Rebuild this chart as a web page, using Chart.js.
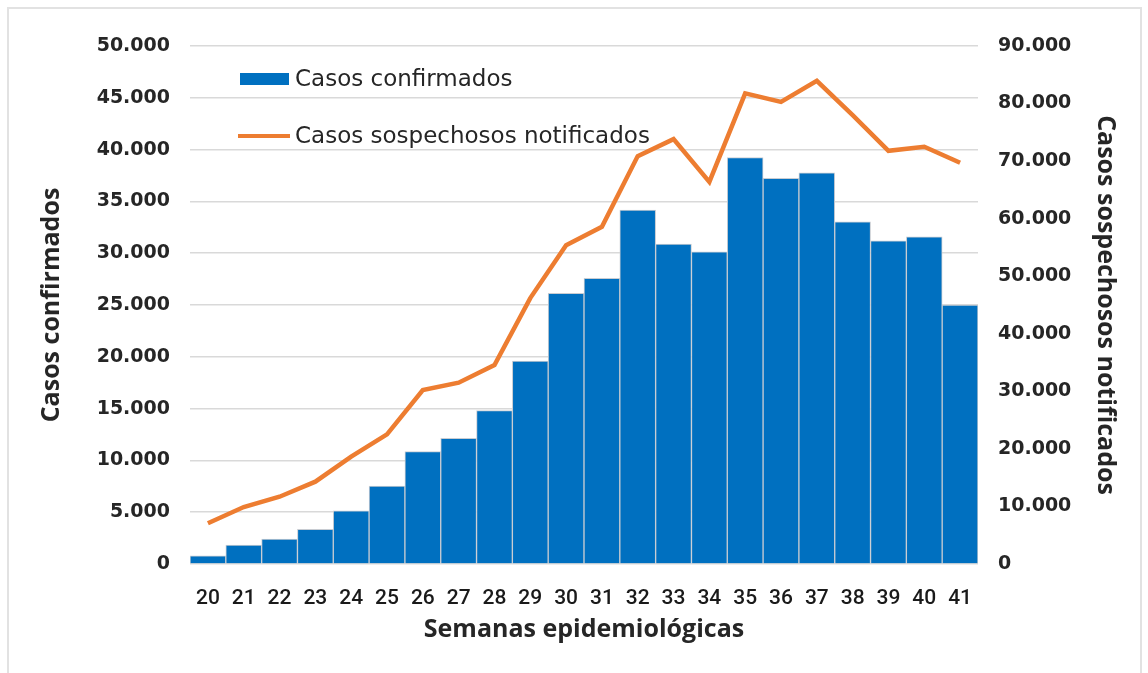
<!DOCTYPE html>
<html>
<head>
<meta charset="utf-8">
<script src="https://cdn.jsdelivr.net/npm/chart.js@4/dist/chart.umd.min.js"></script>
<style>
  html, body { margin: 0; padding: 0; background: #fff; overflow: hidden; }
  #frame { position: absolute; left: 7px; top: 7px; width: 1131px; height: 700px; border: 2px solid #e2e2e2; }
  #wrap { position: absolute; left: 0; top: 0; width: 1148px; height: 673px; }
</style>
</head>
<body>
<div id="frame"></div>
<div id="wrap"><canvas id="chart" width="1148" height="673"></canvas></div>
<script>
const semanas = ['20', '21', '22', '23', '24', '25', '26', '27', '28', '29', '30',
  '31', '32', '33', '34', '35', '36', '37', '38', '39', '40', '41'];
const confirmados = [800, 1830, 2410, 3350, 5140, 7530, 10840, 12130, 14800, 19590, 26120,
  27570, 34160, 30880, 30140, 39240, 37220, 37760, 33030, 31200, 31590, 24990];
const sospechosos = [7070, 9900, 11690, 14300, 18640, 22530, 30220, 31500, 34570, 46200, 55400,
  58590, 70870, 73820, 66400, 81760, 80300, 83950, 78000, 71790, 72490, 69710];

const BLUE = '#0070c0';
const ORANGE = '#ed7d31';
const TXT = '#262626';

function miles(v) {
  return String(v).replace(/\B(?=(\d{3})+(?!\d))/g, '.');
}

// legend drawn inside the plot, top left
const innerLegend = {
  id: 'innerLegend',
  afterDraw(chart) {
    const ctx = chart.ctx;
    const a = chart.chartArea;
    const x0 = a.left + 50;
    ctx.save();
    ctx.fillStyle = BLUE;
    ctx.fillRect(x0, a.top + 27, 49, 12);
    ctx.strokeStyle = ORANGE;
    ctx.lineWidth = 4;
    ctx.beginPath();
    ctx.moveTo(x0 - 2, a.top + 90);
    ctx.lineTo(x0 + 50, a.top + 90);
    ctx.stroke();
    ctx.fillStyle = TXT;
    ctx.font = '23px "DejaVu Sans"';
    ctx.textBaseline = 'middle';
    ctx.fillText('Casos confirmados', x0 + 55, a.top + 34);
    ctx.fillText('Casos sospechosos notificados', x0 + 55, a.top + 91);
    ctx.restore();
  }
};

const tickFont = { family: '"DejaVu Sans"', size: 19, weight: 'bold' };
const titleFont = { family: '"Open Sans"', size: 25, weight: 'bold' };

new Chart(document.getElementById('chart'), {
  data: {
    labels: semanas,
    datasets: [
      {
        type: 'line', label: 'Casos sospechosos notificados', data: sospechosos,
        yAxisID: 'y2', borderColor: ORANGE, borderWidth: 4.5, pointRadius: 0,
        tension: 0, order: 0
      },
      {
        type: 'bar', label: 'Casos confirmados', data: confirmados,
        yAxisID: 'y', backgroundColor: BLUE, borderColor: '#c8ccd2', borderWidth: 1,
        barPercentage: 1, categoryPercentage: 1, order: 1
      }
    ]
  },
  options: {
    responsive: false,
    animation: false,
    layout: { padding: { left: 33, right: 24, top: 46, bottom: 24 } },
    plugins: { legend: { display: false }, tooltip: { enabled: false } },
    scales: {
      x: {
        grid: { display: false },
        border: { display: false },
        ticks: { color: '#1a1a1a', padding: 14, font: { family: 'Roboto', size: 21, weight: '500' } },
        title: { display: true, text: 'Semanas epidemiológicas', color: TXT, font: titleFont },
        afterFit(s) { s.height = 85; }
      },
      y: {
        position: 'left', min: 0, max: 50000,
        ticks: { stepSize: 5000, color: TXT, padding: 20, font: tickFont, callback: v => miles(v) },
        grid: { color: '#d9d9d9', lineWidth: 1.5, drawTicks: false },
        border: { display: false },
        title: { display: true, text: 'Casos confirmados', color: TXT, font: titleFont },
        afterFit(s) { s.width = 157; }
      },
      y2: {
        position: 'right', min: 0, max: 90000,
        ticks: { stepSize: 10000, color: TXT, padding: 20, font: tickFont, callback: v => miles(v) },
        grid: { display: false, drawTicks: false },
        border: { display: false },
        title: { display: true, text: 'Casos sospechosos notificados', color: TXT, font: titleFont },
        afterFit(s) { s.width = 146; }
      }
    }
  },
  plugins: [innerLegend]
});
</script>
</body>
</html>
